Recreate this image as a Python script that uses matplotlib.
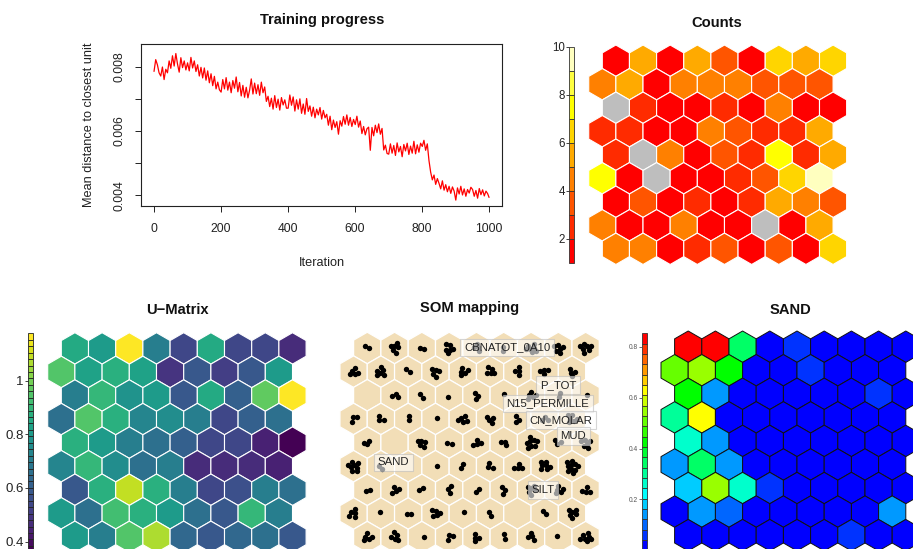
import colorsys
import numpy as np
import matplotlib
matplotlib.use("Agg")
import matplotlib.pyplot as plt
from matplotlib.patches import RegularPolygon
from matplotlib.collections import PatchCollection

plt.rcParams['font.family'] = ['Liberation Sans', 'DejaVu Sans']

# =========================
# DATA
# =========================

# Training progress: mean distance to closest unit (in units of 1e-5),
# sampled every 5 iterations plus the last one
iterations = np.append(np.arange(1, 1000, 5), 1000)
mean_dist_e5 = [
    786, 822, 806, 781, 771, 799, 760, 792, 781, 818,
    795, 834, 802, 841, 808, 783, 828, 797, 818, 790,
    812, 787, 829, 796, 818, 785, 806, 771, 798, 765,
    796, 758, 787, 750, 778, 741, 770, 731, 752, 728,
    721, 760, 731, 766, 727, 752, 719, 757, 733, 768,
    722, 751, 709, 742, 705, 736, 703, 727, 762, 715,
    749, 716, 744, 711, 752, 719, 737, 692, 708, 676,
    702, 668, 710, 673, 699, 665, 704, 681, 697, 671,
    671, 712, 680, 706, 662, 697, 668, 700, 655, 684,
    652, 701, 661, 678, 646, 674, 641, 668, 650, 673,
    637, 664, 641, 652, 618, 646, 604, 634, 611, 629,
    590, 632, 615, 645, 621, 650, 618, 642, 614, 636,
    620, 646, 612, 631, 592, 614, 588, 607, 612, 540,
    611, 585, 618, 595, 622, 590, 608, 541, 556, 530,
    528, 560, 531, 555, 524, 563, 535, 552, 520, 558,
    538, 562, 527, 553, 531, 568, 529, 557, 534, 562,
    552, 571, 540, 560, 508, 472, 448, 463, 434, 452,
    437, 420, 445, 416, 433, 411, 428, 406, 426, 413,
    385, 423, 404, 428, 401, 420, 397, 418, 407, 425,
    418, 397, 415, 391, 421, 402, 417, 398, 413, 405,
    394,
]
mean_dist = np.array(mean_dist_e5) * 1e-5

# 9 x 9 hexagonal SOM, rows listed top to bottom
counts = [
    [2, 6, 2, 6, 4, 2, 7, 6, 7],
    [5, 6, 2, 5, 5, 5, 4, 4, 4],
    [0, 3, 2, 1, 3, 1, 5, 2, 1],
    [3, 3, 2, 1, 5, 4, 3, 3, 6],
    [3, 0, 5, 2, 4, 3, 8, 3, 6],
    [8, 2, 0, 1, 2, 3, 4, 7, 10],
    [2, 4, 2, 3, 2, 3, 6, 5, 4],
    [5, 1, 2, 5, 1, 2, 0, 2, 6],
    [5, 5, 1, 3, 4, 2, 4, 1, 7],
]

umatrix = [
    [0.86, 0.80, 1.17, 0.70, 0.54, 0.86, 0.54, 0.55, 0.47],
    [0.95, 0.82, 0.88, 0.82, 0.50, 0.58, 0.52, 0.59, 0.81],
    [0.72, 0.91, 0.77, 0.81, 0.60, 0.86, 0.61, 0.98, 1.17],
    [0.66, 0.94, 0.87, 0.74, 0.75, 0.71, 0.54, 0.61, 0.65],
    [0.87, 0.81, 0.72, 0.65, 0.61, 0.54, 0.55, 0.44, 0.37],
    [0.73, 0.90, 0.76, 0.67, 0.70, 0.46, 0.48, 0.48, 0.45],
    [0.59, 0.87, 1.09, 0.88, 0.70, 0.54, 0.57, 0.72, 0.65],
    [0.81, 0.67, 0.92, 0.87, 0.81, 0.67, 0.58, 0.90, 0.71],
    [0.81, 0.71, 0.94, 1.06, 0.64, 0.60, 0.64, 0.65, 0.60],
]

sand = [
    [0.853, 0.84, 0.345, 0.02, 0.061, 0.02, 0.01, 0.02, 0.01],
    [0.507, 0.548, 0.426, 0.02, 0.01, 0.061, 0.02, 0.01, 0.02],
    [0.41, 0.142, 0.02, 0.01, 0.02, 0.01, 0.02, 0.08, 0.01],
    [0.305, 0.63, 0.02, 0.01, 0.02, 0.01, 0.02, 0.01, 0.02],
    [0.264, 0.142, 0.01, 0.02, 0.01, 0.02, 0.01, 0.02, 0.01],
    [0.142, 0.345, 0.15, 0.02, 0.01, 0.02, 0.01, 0.02, 0.01],
    [0.183, 0.53, 0.264, 0.061, 0.02, 0.01, 0.02, 0.01, 0.02],
    [0.02, 0.142, 0.10, 0.01, 0.02, 0.01, 0.02, 0.01, 0.142],
    [0.01, 0.02, 0.01, 0.02, 0.01, 0.02, 0.061, 0.02, 0.01],
]

# variable labels on the mapping plot (grid units)
var_names = ["CBNATOT_0A10", "P_TOT", "N15_PERMILLE", "CN_MOLAR", "MUD", "SAND", "SILT"]
var_x = [5.62, 7.49, 7.11, 7.60, 8.05, 1.45, 6.93]
var_y = [0.03, -1.36, -2.03, -2.64, -3.22, -4.19, -5.20]

# =========================
# PALETTES / BREAKS
# =========================

heat_colors = ["#FF0000", "#FF2B00", "#FF5500", "#FF8000", "#FFAA00",
               "#FFD500", "#FFFF00", "#FFFF40", "#FFFFBF"]
count_breaks = np.arange(1, 11)

u_breaks = np.linspace(0.36, 1.176, 35)
u_colors = list(plt.cm.viridis(np.linspace(0, 1, 34)))

sand_breaks = np.linspace(0, 0.853, 22)
sand_colors = [colorsys.hsv_to_rgb(h, 1, 1) for h in np.linspace(2 / 3, 0, 21)]


def cut_colors(values, breaks, palette):
    # right-closed bins, lowest included
    idx = np.searchsorted(breaks, np.ravel(values), side='left') - 1
    idx = np.clip(idx, 0, len(palette) - 1)
    return [palette[i] for i in idx]


# hex unit centres, top row shifted right
n_rows, n_cols = 9, 9
rows, cols = np.mgrid[0:n_rows, 0:n_cols]
hex_x = (cols + 0.5 * (rows % 2 == 0)).ravel()
hex_y = (-rows * np.sqrt(3) / 2).ravel()

# =========================
# FIGURE
# =========================

W, H = 913, 549
fig = plt.figure(figsize=(W / 100, H / 100), dpi=100)


def px_rect(x0, y0, x1, y1):
    return [x0 / W, 1 - y1 / H, (x1 - x0) / W, (y1 - y0) / H]


def grid_axes(cx0, cy0, cell):
    # full-figure axes where one data unit is one hex cell wide
    ax = fig.add_axes([0, 0, 1, 1])
    ax.set_xlim(-cx0 / cell, (W - cx0) / cell)
    ax.set_ylim((cy0 - H) / cell, cy0 / cell)
    ax.axis('off')
    return ax


def draw_hexes(ax, facecolors, edgecolor, lw):
    polys = [RegularPolygon((x, y), 6, radius=1 / np.sqrt(3))
             for x, y in zip(hex_x, hex_y)]
    pc = PatchCollection(polys, facecolors=facecolors,
                         edgecolors=edgecolor, linewidths=lw)
    ax.add_collection(pc)


def colour_bar(rect, breaks, palette, ylim, ticks, labels, size, colour, edge):
    ax = fig.add_axes(px_rect(*rect))
    bars = ax.bar(0, np.diff(breaks), bottom=breaks[:-1], width=1,
                  color=palette, edgecolor=edge, linewidth=0.6)
    for b in bars:
        b.set_clip_on(False)
    ax.set_xlim(-0.5, 0.5)
    ax.set_ylim(*ylim)
    for s in ax.spines.values():
        s.set_visible(False)
    ax.set_xticks([])
    ax.set_yticks(ticks)
    ax.set_yticklabels(labels)
    ax.tick_params(axis='y', length=2.2, width=0.6, pad=0.8,
                   labelsize=size, colors=colour)
    return ax


title_kw = dict(fontsize=10.6, fontweight='bold', ha='center', va='baseline',
                color='#111111')

# =========================
# TRAINING PROGRESS
# =========================

ax = fig.add_axes(px_rect(141, 44, 502, 206))
ax.plot(iterations, mean_dist, color='red', linewidth=0.9)
ax.set_xlim(-37.9, 1038.8)
ax.set_ylim(0.003667, 0.008706)
ax.set_xticks([0, 200, 400, 600, 800, 1000])
ax.set_yticks([0.004, 0.005, 0.006, 0.007, 0.008])
ax.set_yticklabels(["0.004", "", "0.006", "", "0.008"])
for s in ax.spines.values():
    s.set_linewidth(0.8)
    s.set_color('#222222')
ax.tick_params(axis='both', length=4.3, width=0.7, color='#222222',
               labelsize=8.7, labelcolor='#222222')
ax.tick_params(axis='x', pad=7.7)
ax.tick_params(axis='y', pad=6.6)
for lab in ax.get_yticklabels():
    lab.set_rotation(90)
    lab.set_va('center')

fig.text(322 / W, 1 - 24.3 / H, "Training progress", **title_kw)
fig.text(321.7 / W, 1 - 265.7 / H, "Iteration", fontsize=9.2, ha='center',
         va='baseline', color='#222222')
fig.text(88.5 / W, 1 - 125 / H, "Mean distance to closest unit", fontsize=9.2,
         rotation=90, ha='center', va='center', color='#222222')

# =========================
# COUNTS
# =========================

counts_flat = np.ravel(counts)
count_fill = cut_colors(counts_flat, count_breaks, heat_colors)
count_fill = ['#BEBEBE' if c == 0 else f for c, f in zip(counts_flat, count_fill)]
ax = grid_axes(602.3, 60.7, 27.15)
draw_hexes(ax, count_fill, 'white', 0.8)
fig.text(717 / W, 1 - 27.3 / H, "Counts", **title_kw)
colour_bar((569, 47, 574, 263), count_breaks, heat_colors, (1, 10),
           [2, 4, 6, 8, 10], ["2", "4", "6", "8", "10"], 8.3, '#222222', '#333333')

# =========================
# U-MATRIX
# =========================

ax = grid_axes(61.3, 348.4, 27.2)
draw_hexes(ax, cut_colors(umatrix, u_breaks, u_colors), 'white', 0.8)
fig.text(177 / W, 1 - 314 / H, "U\u2212Matrix", **title_kw)
colour_bar((28, 333.3, 33.3, 549), u_breaks, u_colors, (0.3725, 1.176),
           [0.4, 0.6, 0.8, 1.0], ["0.4", "0.6", "0.8", "1"], 9.5, '#222222', '#222222')

# =========================
# SOM MAPPING
# =========================

ax = grid_axes(353.6, 348.0, 27.3)
draw_hexes(ax, '#F2DEB7', 'white', 0.9)

golden = np.pi * (3 - np.sqrt(5))
dot_x, dot_y = [], []
for cell, (cx, cy, n) in enumerate(zip(hex_x, hex_y, counts_flat)):
    k = np.arange(n)
    r = 0.085 * np.sqrt(k + 0.6)
    a = k * golden + cell * 1.7
    dot_x.extend(cx + r * np.cos(a))
    dot_y.extend(cy + r * np.sin(a))
ax.scatter(dot_x, dot_y, s=15, color='black', linewidths=0, zorder=3)

for name, x, y in zip(var_names, var_x, var_y):
    ax.text(x, y, name, fontsize=8.2, ha='center', va='center', color='#222222',
            zorder=4,
            bbox=dict(boxstyle='square,pad=0.32', facecolor='white', alpha=0.6,
                      edgecolor='#BBBBBB', linewidth=0.8))
fig.text(470 / W, 1 - 312 / H, "SOM mapping", **title_kw)

# =========================
# SAND
# =========================

ax = grid_axes(674.6, 346.7, 27.2)
draw_hexes(ax, cut_colors(sand, sand_breaks, sand_colors), '#111111', 0.7)
fig.text(790.7 / W, 1 - 314.3 / H, "SAND", **title_kw)
colour_bar((642, 333.3, 647, 549), sand_breaks, sand_colors, (0.005, 0.853),
           [0.2, 0.4, 0.6, 0.8], ["0.2", "0.4", "0.6", "0.8"], 4.8, '#555555', '#333333')

fig.savefig("out.png", dpi=100)
